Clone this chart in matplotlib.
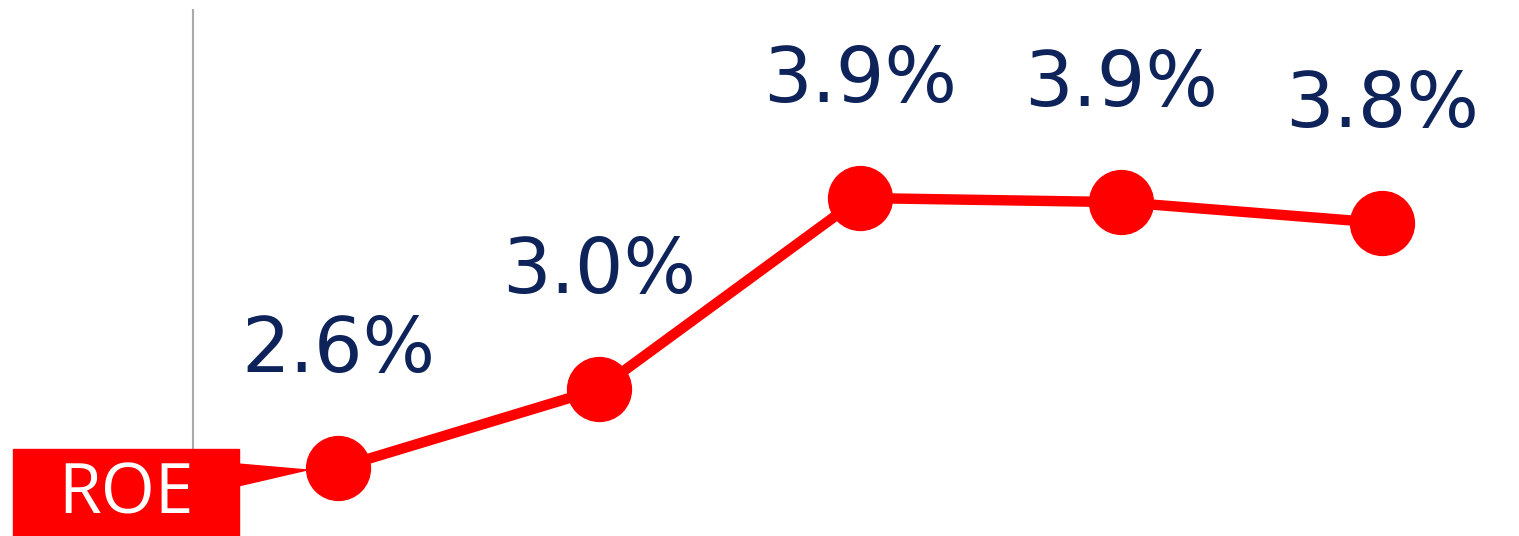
import matplotlib
matplotlib.use("Agg")
import matplotlib.pyplot as plt
from matplotlib.patches import Rectangle, Polygon
from matplotlib.transforms import IdentityTransform

# values (ROE, %)
periods = ["P1", "P2", "P3", "P4", "P5"]
roe = [2.6, 2.98, 3.9, 3.88, 3.78]
labels = ["2.6%", "3.0%", "3.9%", "3.9%", "3.8%"]

W, H = 1519, 536
fig = plt.figure(figsize=(W / 100, H / 100), dpi=100)
ax = fig.add_axes([193 / W, 0, 1 - 193 / W, (H - 10) / H])

x = list(range(len(roe)))
ax.plot(x, roe, color="#FF0000", lw=7.5, marker="o", ms=46, zorder=3, clip_on=False)
for xi, v, lab in zip(x, roe, labels):
    ax.annotate(lab, (xi, v), xytext=(0, 84), textcoords="offset points",
                ha="center", va="center", fontsize=55, color="#0D2359")

ax.set_xlim(-145 / 261, 4 + 137 / 261)
ax.set_ylim(2.6 - 68 / 207.7, 2.6 + 458 / 207.7)
ax.set_xticks([])
ax.set_yticks([])
for s in ["top", "right", "bottom"]:
    ax.spines[s].set_visible(False)
ax.spines["left"].set_color("#AAAAAA")
ax.spines["left"].set_linewidth(1.5)

# ROE callout box (pixel coords, origin bottom-left)
fig.canvas.draw()
tx, ty = ax.transData.transform((0, roe[0]))
box = Rectangle((13, 0), 226, H - 449, transform=IdentityTransform(),
                color="#FF0000", zorder=5)
fig.patches.append(box)
tip = Polygon([(238, H - 464), (238, H - 486), (tx - 31, ty - 2)], closed=True,
              transform=IdentityTransform(), color="#FF0000", zorder=5)
fig.patches.append(tip)
fig.text(126 / W, 1 - 496 / H, "ROE", ha="center", va="center", color="white",
         fontsize=50, family="Open Sans", zorder=6)

fig.savefig("out.png", dpi=100)
